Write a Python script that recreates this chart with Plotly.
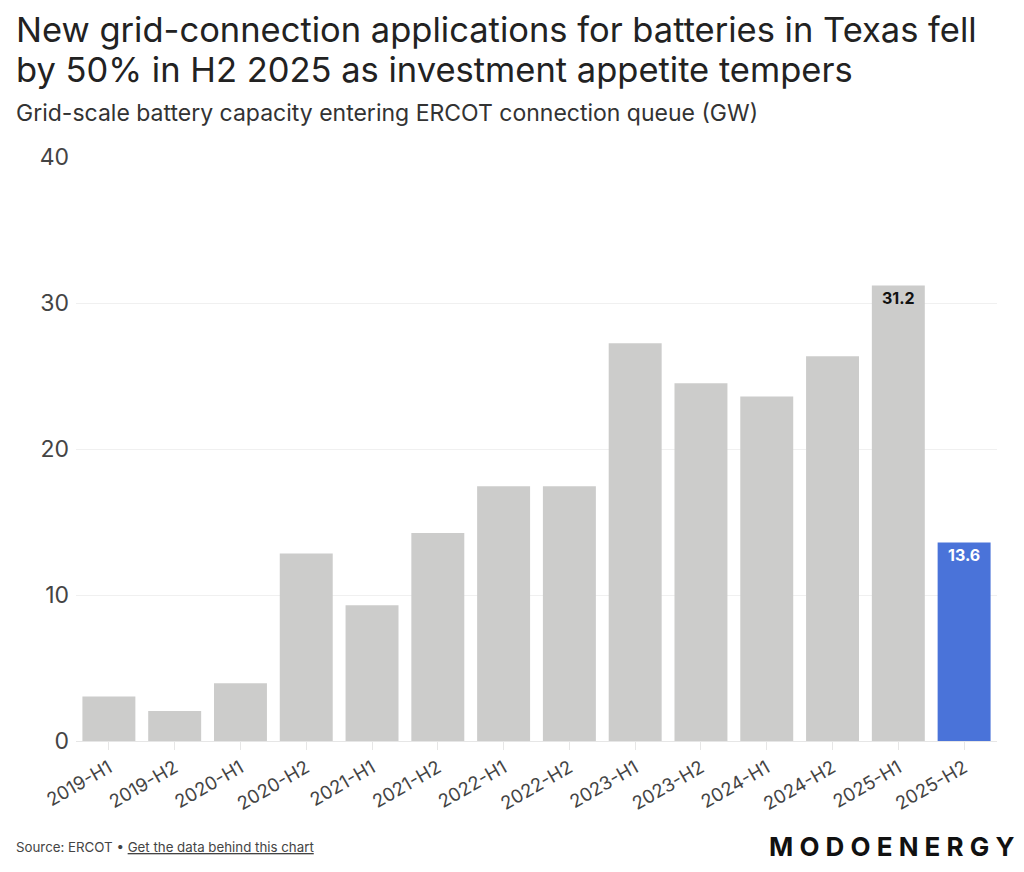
import plotly.graph_objects as go

categories = ["2019-H1", "2019-H2", "2020-H1", "2020-H2", "2021-H1", "2021-H2", "2022-H1",
              "2022-H2", "2023-H1", "2023-H2", "2024-H1", "2024-H2", "2025-H1", "2025-H2"]
capacity_gw = [3.05, 2.05, 3.95, 12.85, 9.3, 14.25, 17.45, 17.45, 27.25, 24.5, 23.6, 26.35, 31.2, 13.6]
labels = ["", "", "", "", "", "", "", "", "", "", "", "", "31.2", "13.6"]
y_ticks = [0, 10, 20, 30, 40]

bar_colors = ["#cccccb"] * 13 + ["#4a73d9"]
label_colors = ["#111111"] * 13 + ["#ffffff"]

FONT = "Inter"

fig = go.Figure()
fig.add_trace(go.Bar(
    x=categories, y=capacity_gw, marker=dict(color=bar_colors, line=dict(width=0)),
    text=labels, textposition="inside", insidetextanchor="end",
    textfont=dict(family=FONT, size=16, color=label_colors, weight="bold"),
    textangle=0, cliponaxis=False, hoverinfo="x+y",
))

# page has an 8px body margin; work in page pixel coordinates
OFF = 8
W, H = 1024 - OFF, 872 - OFF
L, R, T, B = 76 - OFF, 27, 157 - OFF, 131
PW, PH = W - L - R, H - T - B

def px(xp):
    return (xp - OFF - L) / PW

def py(yp):
    return (H - B - (yp - OFF)) / PH

annotations = [
    dict(text="New grid-connection applications for batteries in Texas fell", x=px(14), y=py(30),
         font=dict(family=FONT, size=34.5, color="#222222")),
    dict(text="by 50% in H2 2025 as investment appetite tempers", x=px(14), y=py(69),
         font=dict(family=FONT, size=34.5, color="#222222")),
    dict(text="Grid-scale battery capacity entering ERCOT connection queue (GW)", x=px(14), y=py(113),
         font=dict(family=FONT, size=23, color="#333333")),
    dict(text="Source: ERCOT • <u>Get the data behind this chart</u>", x=px(14), y=py(847),
         font=dict(family=FONT, size=13.3, color="#444444")),
    dict(text="M O D O E N E R G Y", x=px(1016), y=py(846), xanchor="right",
         font=dict(family=FONT, size=26, color="#111111", weight="bold")),
]
for a in annotations:
    a.setdefault("xanchor", "left")
    a.update(xref="paper", yref="paper", yanchor="middle", showarrow=False)

fig.update_layout(
    width=W, height=H,
    margin=dict(l=L, r=R, t=T, b=B, pad=0),
    paper_bgcolor="#ffffff", plot_bgcolor="#ffffff",
    bargap=0.195, showlegend=False,
    annotations=annotations,
    font=dict(family=FONT),
    xaxis=dict(
        type="category", tickangle=-30, showgrid=False,
        ticks="outside", ticklen=8, tickcolor="#e6e6e6", tickwidth=1,
        tickfont=dict(family=FONT, size=18.5, color="#444444"),
        showline=True, linecolor="#e6e6e6", linewidth=1,
    ),
    yaxis=dict(
        range=[0, 40], tickvals=y_ticks, showgrid=True, gridcolor="#f0f0f0", gridwidth=1,
        zeroline=False, showline=False, ticks="", ticklabelstandoff=6,
        tickfont=dict(family=FONT, size=23, color="#444444"),
    ),
)

fig.write_html("out.html")
